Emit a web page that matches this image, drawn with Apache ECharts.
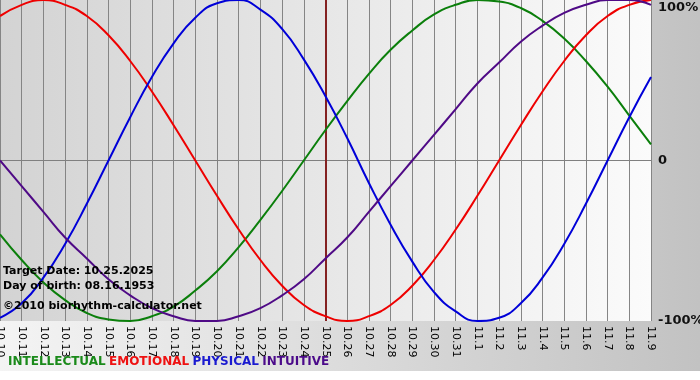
<!DOCTYPE html>
<html>
<head>
<meta charset="utf-8">
<script src="https://cdn.jsdelivr.net/npm/echarts@6/dist/echarts.min.js"></script>
<style>html,body{margin:0;padding:0;background:#fff;}#c{width:700px;height:380px;}</style>
</head>
<body>
<div id="c"></div>
<script>
var days = ['10.10','10.11','10.12','10.13','10.14','10.15','10.16','10.17','10.18','10.19','10.20','10.21','10.22','10.23','10.24','10.25','10.26','10.27','10.28','10.29','10.30','10.31','11.1','11.2','11.3','11.4','11.5','11.6','11.7','11.8','11.9'];
var intellectual = [-46,-62,-76,-87,-95,-99,-100,-97,-91,-81,-69,-54,-37,-19,0,19,37,54,69,81,91,97,100,99,95,87,76,62,46,28,10];
var emotional = [90,97,100,97,90,78,62,43,22,0,-22,-43,-62,-78,-90,-97,-100,-97,-90,-78,-62,-43,-22,0,22,43,62,78,90,97,100];
var physical = [-98,-89,-73,-52,-27,0,27,52,73,89,98,100,94,82,63,40,14,-14,-40,-63,-82,-94,-100,-98,-89,-73,-52,-27,0,27,52];
var intuitive = [0,-16,-32,-48,-61,-74,-84,-92,-97,-100,-100,-97,-92,-84,-74,-61,-48,-32,-16,0,16,32,48,61,74,84,92,97,100,100,97];
var targetDay = '10.25';
var yTicks = {'100':'100%','0':'0','-100':'-100%'};
var infoLines = ['Target Date: 10.25.2025','Day of birth: 08.16.1953'];
var copyright = '\u00a92010 biorhythm-calculator.net';
var legendNames = ['INTELLECTUAL','EMOTIONAL','PHYSICAL','INTUITIVE'];

var FONT = 'DejaVu Sans';
var lineColors = ['#0b7f0b','#ee0000','#0000d8','#4f0a86'];
var legColors = ['#1a8a1a','#ee1111','#1a1ad0','#4b0a8a'];

function mk(name, data, color, extra){
  var s = {name:name, type:'line', data:data, smooth:true, symbol:'none',
    lineStyle:{color:color, width:2}, itemStyle:{color:color}, z:3, animation:false};
  if(extra) Object.assign(s, extra);
  return s;
}

var chart = echarts.init(document.getElementById('c'), null, {renderer:'canvas'});
chart.setOption({
  animation:false,
  backgroundColor:'#ffffff',
  graphic:[
    {type:'rect', z:-10, shape:{x:0,y:0,width:700,height:371},
     style:{fill:new echarts.graphic.LinearGradient(0,0,1,0,[{offset:0,color:'#f4f4f4'},{offset:1,color:'#c2c2c2'}])}, silent:true},
    {type:'text', left:3, top:266, z:10, style:{text:infoLines[0], font:'bold 11px "'+FONT+'"', fill:'#000'}},
    {type:'text', left:3, top:281, z:10, style:{text:infoLines[1], font:'bold 11px "'+FONT+'"', fill:'#000'}},
    {type:'text', left:3, top:301, z:10, style:{text:copyright, font:'bold 11px "'+FONT+'"', fill:'#000'}},
    {type:'text', left:8, top:356, z:10, style:{
      rich:{
        a:{fill:legColors[0], font:'bold 12px "'+FONT+'"'},
        b:{fill:legColors[1], font:'bold 12px "'+FONT+'"'},
        c:{fill:legColors[2], font:'bold 12px "'+FONT+'"'},
        d:{fill:legColors[3], font:'bold 12px "'+FONT+'"'}
      },
      text:'{a|'+legendNames[0]+'} {b|'+legendNames[1]+'} {c|'+legendNames[2]+'} {d|'+legendNames[3]+'}'
    }}
  ],
  grid:{left:0, right:49, top:0, height:321, show:true, borderWidth:0, containLabel:false, outerBoundsMode:'none',
    backgroundColor:new echarts.graphic.LinearGradient(0,0,1,0,[{offset:0,color:'#d3d3d3'},{offset:1,color:'#fbfbfb'}])},
  xAxis:{type:'category', data:days, boundaryGap:false,
    axisLine:{show:true, lineStyle:{color:'#808080', width:1}},
    axisTick:{show:true, length:4, alignWithLabel:true, lineStyle:{color:'#808080'}},
    axisLabel:{rotate:-90, fontFamily:FONT, fontSize:11, color:'#000', margin:5, interval:0, hideOverlap:false},
    splitLine:{show:true, lineStyle:{color:'#858585', width:1}}
  },
  yAxis:{type:'value', position:'right', min:-100, max:100, interval:100,
    axisLine:{show:false}, axisTick:{show:false},
    axisLabel:{fontFamily:FONT, fontSize:13, fontWeight:'bold', color:'#111', margin:7,
      rich:{top:{fontFamily:FONT, fontSize:13, fontWeight:'bold', color:'#111', padding:[16,0,0,0]}},
      formatter:function(v){var t = yTicks[String(v)]; return v === 100 ? '{top|'+t+'}' : t;}},
    splitLine:{show:true, lineStyle:{color:['rgba(0,0,0,0)','#858585','rgba(0,0,0,0)'], width:1}}
  },
  series:[
    mk('INTELLECTUAL', intellectual, lineColors[0], {markLine:{silent:true, symbol:'none', label:{show:false},
      lineStyle:{color:'#842222', width:2, type:'solid'}, data:[{xAxis:targetDay}], animation:false, z:2}}),
    mk('EMOTIONAL', emotional, lineColors[1]),
    mk('PHYSICAL', physical, lineColors[2]),
    mk('INTUITIVE', intuitive, lineColors[3])
  ]
});
</script>
</body>
</html>
